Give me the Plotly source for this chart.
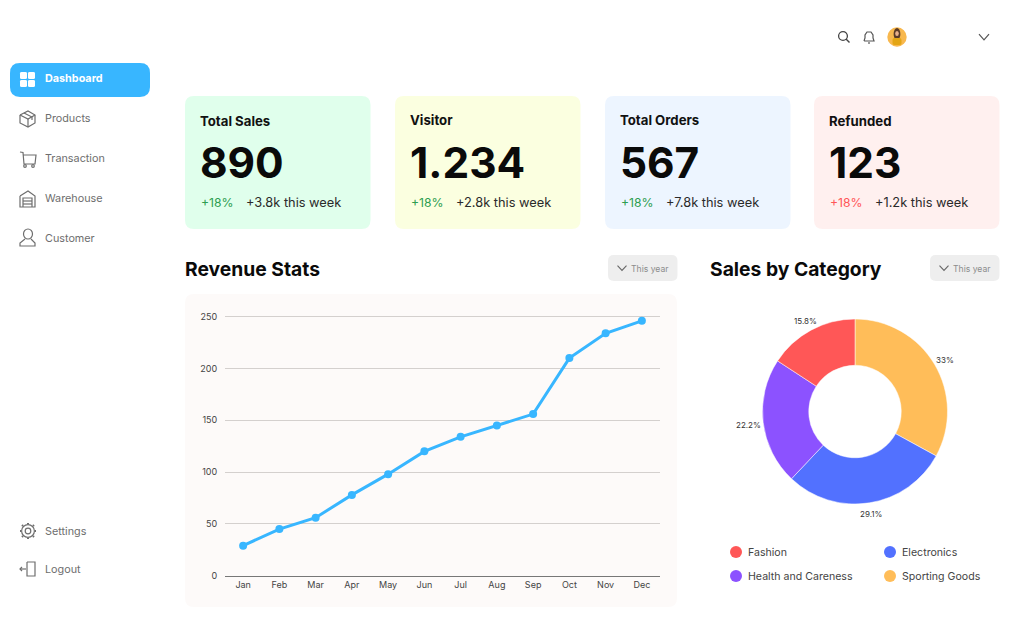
#!/usr/bin/env python3
"""Sales dashboard: KPI cards, revenue line and category donut."""
import plotly.graph_objects as go

W, H = 1024, 640

MONTHS = ["Jan", "Feb", "Mar", "Apr", "May", "Jun", "Jul", "Aug", "Sep", "Oct", "Nov", "Dec"]
REVENUE = [29, 45, 56, 78, 98, 120, 134, 145, 156, 210, 234, 246]
Y_TICKS = [0, 50, 100, 150, 200, 250]

CATEGORIES = ["Sporting Goods", "Electronics", "Health and Careness", "Fashion"]
SHARES = [33, 29.1, 22.2, 15.8]
SHARE_LABELS = ["33%", "29.1%", "22.2%", "15.8%"]
SHARE_LABEL_POS = [(945, 360), (871, 514), (748, 425), (805, 321)]
CATEGORY_COLORS = ["#FFBD59", "#5271FF", "#8C52FF", "#FF5757"]

CARD_TITLES = ["Total Sales", "Visitor", "Total Orders", "Refunded"]
CARD_TITLE_Y = [121, 120, 120, 121]
CARD_VALUES = ["890", "1.234", "567", "123"]
CARD_PCTS = ["+18%", "+18%", "+18%", "+18%"]
CARD_WEEK = ["+3.8k this week", "+2.8k this week", "+7.8k this week", "+1.2k this week"]
CARD_FILLS = ["#E0FFEC", "#FBFFE0", "#EDF5FF", "#FFF0EF"]
CARD_PCT_COLORS = ["#2E9E50", "#2E9E50", "#2E9E50", "#FF5757"]
CARD_LEFT = [185, 395, 605, 814]

NAV_TOP = ["Dashboard", "Products", "Transaction", "Warehouse", "Customer"]
NAV_TOP_Y = [79, 119, 158.5, 198.5, 238.5]
NAV_BOTTOM = ["Settings", "Logout"]
NAV_BOTTOM_Y = [531, 569]

BLUE = "#38B6FF"
GREY = "#6E6E6E"
FONT = "Inter"


def px(x):
    return x / W


def py(y):
    return 1 - y / H


def path(pts):
    """Polyline in pixel coordinates -> paper-referenced svg path."""
    return "M" + " L".join(f"{px(x):.5f},{py(y):.5f}" for x, y in pts)


def round_rect(x0, y0, x1, y1, r):
    p = lambda x, y: f"{px(x):.5f},{py(y):.5f}"
    return (f"M{p(x0 + r, y0)} L{p(x1 - r, y0)} Q{p(x1, y0)} {p(x1, y0 + r)} "
            f"L{p(x1, y1 - r)} Q{p(x1, y1)} {p(x1 - r, y1)} "
            f"L{p(x0 + r, y1)} Q{p(x0, y1)} {p(x0, y1 - r)} "
            f"L{p(x0, y0 + r)} Q{p(x0, y0)} {p(x0 + r, y0)} Z")


shapes = []
notes = []


def box(x0, y0, x1, y1, r, fill):
    shapes.append(dict(type="path", xref="paper", yref="paper", layer="below",
                       path=round_rect(x0, y0, x1, y1, r), fillcolor=fill,
                       line=dict(width=0)))


def stroke(pts, color=GREY, width=1.2):
    shapes.append(dict(type="path", xref="paper", yref="paper", layer="below",
                       path=path(pts), line=dict(color=color, width=width)))


def dot(cx, cy, rx, ry=None, fill=None, line=None, width=1.2):
    ry = rx if ry is None else ry
    shapes.append(dict(type="circle", xref="paper", yref="paper", layer="below",
                       x0=px(cx - rx), x1=px(cx + rx), y0=py(cy + ry), y1=py(cy - ry),
                       fillcolor=fill or "rgba(0,0,0,0)",
                       line=dict(color=line or "rgba(0,0,0,0)", width=width if line else 0)))


def label(x, y, text, size, color="#111111", bold=False, anchor="left"):
    # annotations carry about 1px of padding, pull left-anchored ones back
    x = x - 1 if anchor == "left" else x
    notes.append(dict(xref="paper", yref="paper", x=px(x), y=py(y), text=text,
                      showarrow=False, xanchor=anchor, yanchor="middle", borderpad=0,
                      font=dict(family=FONT, size=size, color=color,
                                weight=700 if bold else 400)))


def chevron(cx, cy, w, h, color, width=1.2):
    stroke([(cx - w, cy - h), (cx, cy + h), (cx + w, cy - h)], color, width)


# sidebar
box(10, 63, 150, 97, 10, BLUE)
for x0, y0 in [(20, 72), (28, 72), (20, 80), (28, 80)]:
    box(x0, y0, x0 + 7, y0 + 7, 1.5, "#FFFFFF")
for name, y in zip(NAV_TOP, NAV_TOP_Y):
    label(45, y, name, 10.8, "#FFFFFF" if name == "Dashboard" else GREY, bold=name == "Dashboard")
for name, y in zip(NAV_BOTTOM, NAV_BOTTOM_Y):
    label(45, y, name, 10.8, GREY)

# products
stroke([(20, 115), (28, 111), (35, 115), (35, 123), (28, 127), (20, 123), (20, 115)])
stroke([(20, 115), (28, 119), (35, 115)])
stroke([(28, 119), (28, 127)])
stroke([(24, 113), (32, 117), (32, 120)])
# transaction
stroke([(20, 152), (23, 152.5), (24, 164), (35, 164), (36, 155), (23, 155)])
dot(25, 166, 1.3, line=GREY)
dot(33, 166, 1.3, line=GREY)
# warehouse
stroke([(20, 196), (28, 191), (35, 196), (35, 207), (20, 207), (20, 196)])
stroke([(23, 207), (23, 198), (32, 198), (32, 207)])
stroke([(23, 201), (32, 201)])
stroke([(23, 204), (32, 204)])
# customer
dot(28, 234, 4.5, 5, line=GREY)
stroke([(25, 239), (20, 243), (20, 246), (35, 246), (35, 243), (31, 239)])
# settings
dot(28, 531, 2.8, line=GREY)
dot(28, 531, 6.4, line=GREY)
for a, b in [((28, 524), (28, 523)), ((28, 538), (28, 539)), ((21, 531), (20, 531)),
             ((35, 531), (36, 531)), ((23, 526), (22, 525)), ((33, 536), (34, 537)),
             ((33, 526), (34, 525)), ((23, 536), (22, 537))]:
    stroke([a, b], GREY, 2)
# logout
stroke([(27, 562), (35, 562), (35, 576), (27, 576), (27, 562)])
stroke([(20, 569), (26, 569)])
stroke([(22, 567), (20, 569), (22, 571)])

# top bar
dot(843, 36, 4.4, line="#444444", width=1.3)
stroke([(846, 39), (849.5, 42.5)], "#444444", 1.4)
stroke([(864, 41), (865, 38), (865, 35), (867, 32), (871, 32), (873, 35), (873, 38), (874, 41), (864, 41)],
       "#555555", 1.2)
stroke([(868, 43), (870, 43)], "#555555", 1.2)
dot(897, 37, 9.7, fill="#F8B84E")
dot(897, 34, 3.4, 6, fill="#5A3A28")
dot(897, 33.5, 1.8, 2.6, fill="#E8B08C")
box(892.5, 38, 901.5, 45, 2, "#E3A514")
chevron(984, 37, 5, 2.8, "#555555", 1.2)

# KPI cards
for left, fill, title, title_y, value, pct, pct_color, week in zip(
        CARD_LEFT, CARD_FILLS, CARD_TITLES, CARD_TITLE_Y, CARD_VALUES, CARD_PCTS, CARD_PCT_COLORS, CARD_WEEK):
    box(left, 96, left + 185.5, 229, 9, fill)
    label(left + 15, title_y, title, 13.2, "#111111", bold=True)
    label(left + 15, 162, value, 42.4, "#0A0A0A", bold=True)
    label(left + 16, 202.5, pct, 12.2, pct_color)
    label(left + 60.5, 202.5, week, 12.8, "#2A2A2A")

# section headers
label(184.5, 268.5, "Revenue Stats", 19.3, "#0A0A0A", bold=True)
label(710, 268.5, "Sales by Category", 19.3, "#0A0A0A", bold=True)
for x0 in [608, 930]:
    box(x0, 255, x0 + 69.5, 281, 6, "#EEEEEE")
    chevron(x0 + 14, 268, 4.5, 2.4, "#666666", 1.1)
    label(x0 + 23, 268.5, "This year", 8.6, "#8C8C8C")

# revenue panel
box(185, 294, 677, 607, 9, "#FDFAF9")

# donut labels sit by hand, plotly's outside placement drifts from the original
for text, (x, y) in zip(SHARE_LABELS, SHARE_LABEL_POS):
    label(x, y, text, 8, "#333333", anchor="center")

# donut legend
legend_rows = [("Fashion", 736, 552), ("Electronics", 890, 552),
               ("Health and Careness", 736, 576), ("Sporting Goods", 890, 576)]
for name, x, y in legend_rows:
    dot(x, y, 6, fill=CATEGORY_COLORS[CATEGORIES.index(name)])
    label(x + 12, y, name, 10.6, "#444444")

fig = go.Figure()
fig.add_trace(go.Scatter(
    x=MONTHS, y=REVENUE, mode="lines+markers",
    line=dict(color=BLUE, width=3), marker=dict(color=BLUE, size=8),
    showlegend=False, hoverinfo="x+y"))
fig.add_trace(go.Pie(
    labels=CATEGORIES, values=SHARES, textinfo="none",
    sort=False, direction="clockwise", rotation=0, hole=0.5,
    marker=dict(colors=CATEGORY_COLORS, line=dict(color="#FFFFFF", width=0.5)),
    domain=dict(x=[px(855 - 92.5), px(855 + 92.5)], y=[py(411.5 + 92.5), py(411.5 - 92.5)]),
    automargin=False, showlegend=False))

# top of the range sits just above 250 so the 250 gridline still gets drawn
fig.update_layout(
    width=W, height=H, margin=dict(l=0, r=0, t=0, b=0), autosize=False,
    paper_bgcolor="#FFFFFF", plot_bgcolor="rgba(0,0,0,0)",
    font=dict(family=FONT, color="#333333"),
    xaxis=dict(domain=[px(225), px(660)], range=[-0.5, 11.5], type="category", automargin=False,
               tickfont=dict(size=9, color="#444444"), ticks="", showgrid=False,
               showline=True, linecolor="#777777", linewidth=1, zeroline=False),
    yaxis=dict(domain=[py(575.7), py(314.6)], range=[0, 252], tickvals=Y_TICKS, automargin=False,
               tickfont=dict(size=9, color="#444444"), ticks="outside", ticklen=5,
               tickcolor="rgba(0,0,0,0)", showgrid=True,
               gridcolor="#D4D0CE", gridwidth=1, zeroline=False, showline=False),
    shapes=shapes, annotations=notes)

fig.write_html("out.html", config=dict(displayModeBar=False),
               post_script="document.body.style.margin='0';")
